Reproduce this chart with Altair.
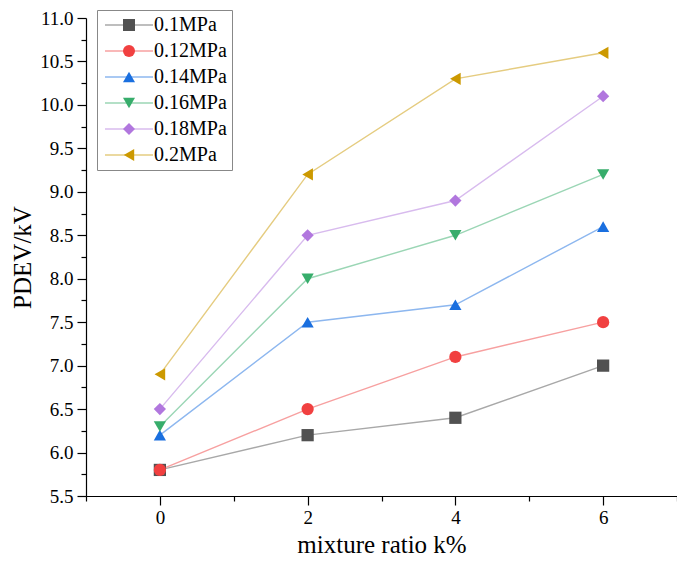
import altair as alt
import pandas as pd

x_vals = [0, 2, 4, 6]
series_names = ["0.1MPa", "0.12MPa", "0.14MPa", "0.16MPa", "0.18MPa", "0.2MPa"]
v_01 = [5.8, 6.2, 6.4, 7.0]
v_012 = [5.8, 6.5, 7.1, 7.5]
v_014 = [6.2, 7.5, 7.7, 8.6]
v_016 = [6.3, 8.0, 8.5, 9.2]
v_018 = [6.5, 8.5, 8.9, 10.1]
v_02 = [6.9, 9.2, 10.3, 10.6]
marker_colors = ["#515151", "#F14040", "#1A6FDF", "#37AD6B", "#B177DE", "#CC9900"]
line_colors = ["#a8a8a8", "#f7a0a0", "#8db7ef", "#9bd6b5", "#d8bbee", "#e5cc80"]
shapes = ["square", "circle", "triangle-up", "triangle-down", "diamond", "triangle-left"]
y_major = [5.5, 6.0, 6.5, 7.0, 7.5, 8.0, 8.5, 9.0, 9.5, 10.0, 10.5, 11.0]
y_minor = [5.75, 6.25, 6.75, 7.25, 7.75, 8.25, 8.75, 9.25, 9.75, 10.25, 10.75]
x_major = [0, 2, 4, 6]
x_minor = [-1, 1, 3, 5, 7]

rows = []
for name, vals in zip(series_names, [v_01, v_012, v_014, v_016, v_018, v_02]):
    for xv, yv in zip(x_vals, vals):
        rows.append({"x": xv, "y": yv, "series": name, "series_l": name + " "})
df = pd.DataFrame(rows)

FONT = "Liberation Serif"
xscale = alt.Scale(domain=[-1, 7], nice=False, zero=False)
yscale = alt.Scale(domain=[5.5, 11.0], nice=False, zero=False)

common_axis = dict(labelFont=FONT, titleFont=FONT, labelFontSize=19,
                   titleFontWeight="normal", labelColor="black", titleColor="black",
                   domainColor="black", tickColor="black", grid=False, domainWidth=1.2,
                   tickWidth=1.2)

legend_common = dict(orient="none", legendX=11, legendY=-8, title=None,
                     labelFont=FONT, labelFontSize=20, symbolSize=144,
                     rowPadding=6, padding=5, symbolOffset=17, labelOffset=15)

lines = alt.Chart(df).mark_line(strokeWidth=1.4).encode(
    x=alt.X("x:Q", scale=xscale,
            axis=alt.Axis(values=x_major, tickSize=9, labelPadding=3, titlePadding=5,
                          title="mixture ratio k%", titleFontSize=25, format="d",
                          orient="bottom", **common_axis)),
    y=alt.Y("y:Q", scale=yscale,
            axis=alt.Axis(values=y_major, tickSize=9, labelPadding=4, titlePadding=4,
                          title="PDEV/kV", titleFontSize=25, format=".1f",
                          orient="left", **common_axis)),
    stroke=alt.Stroke("series_l:N",
                      scale=alt.Scale(domain=[s + " " for s in series_names], range=line_colors),
                      legend=alt.Legend(symbolType="M-4,0H4", symbolStrokeWidth=1.4,
                                        labelColor="transparent", strokeColor="#888888",
                                        **legend_common)),
)

points = alt.Chart(df).mark_point(filled=True, size=150, opacity=1).encode(
    x=alt.X("x:Q", scale=xscale,
            axis=alt.Axis(values=x_minor, tickSize=5, labels=False, domain=False, orient="bottom",
                          title=None, grid=False, tickColor="black", tickWidth=1.2)),
    y=alt.Y("y:Q", scale=yscale,
            axis=alt.Axis(values=y_minor, tickSize=5, labels=False, domain=False, orient="left",
                          title=None, grid=False, tickColor="black", tickWidth=1.2)),
    color=alt.Color("series:N", scale=alt.Scale(domain=series_names, range=marker_colors),
                    legend=alt.Legend(labelColor="black", **legend_common)),
    shape=alt.Shape("series:N", scale=alt.Scale(domain=series_names, range=shapes),
                    legend=alt.Legend(labelColor="black", **legend_common)),
)

chart = alt.layer(lines, points).resolve_axis(x="independent", y="independent").resolve_scale(
    x="shared", y="shared", color="independent", shape="independent"
).properties(
    width=591, height=478,
    autosize=alt.AutoSizeParams(type="none"),
    padding={"left": 78, "top": 10, "right": 0, "bottom": 61},
).configure_view(stroke=None)

chart.save("out.html", embed_options={"renderer": "svg", "actions": False})
